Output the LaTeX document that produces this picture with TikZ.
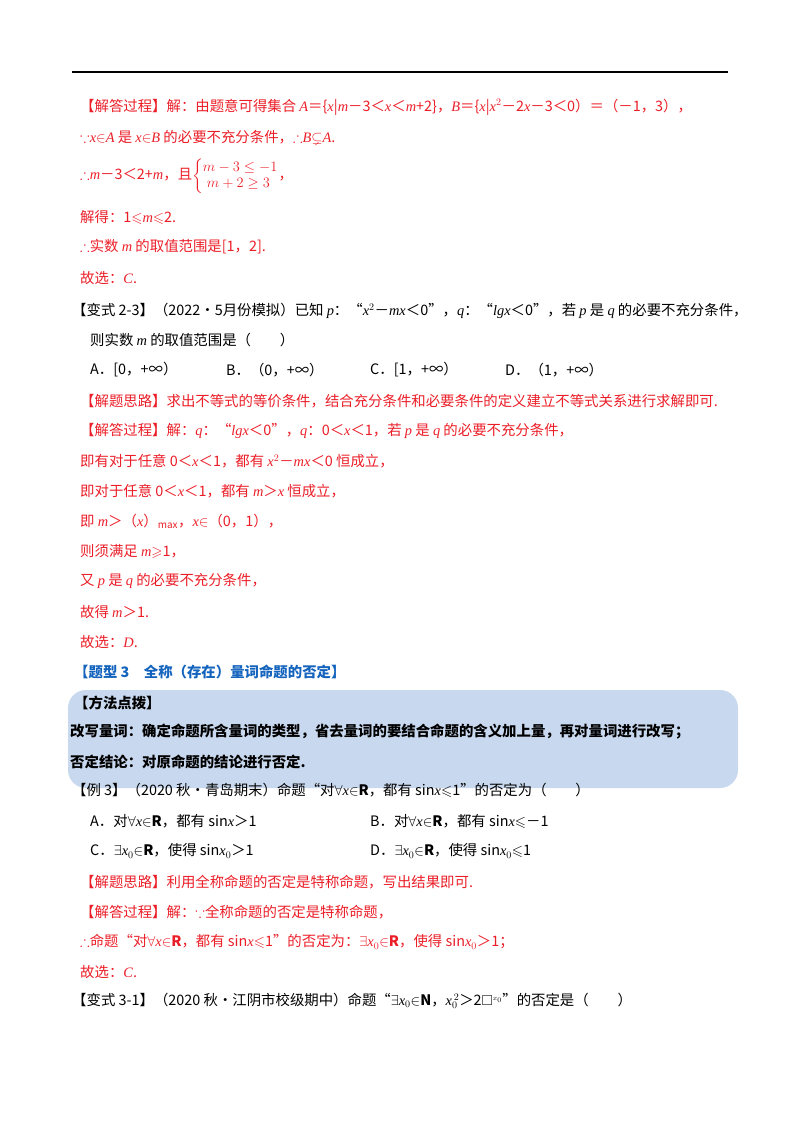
\documentclass[tikz,border=0pt]{standalone}
\usepackage{amsmath,amssymb}
\usepackage{fontspec}
\setmainfont{Noto Sans CJK SC}
\newfontfamily\lat{Liberation Serif}
\definecolor{ans}{RGB}{235,30,40}
\definecolor{hd}{RGB}{20,100,190}
\definecolor{boxc}{RGB}{200,216,238}
\newcommand{\m}[1]{{\lat\itshape #1}}
\begin{document}
\begin{tikzpicture}[x=1pt,y=-1pt,
  tx/.style={anchor=west,inner sep=0pt,font=\fontsize{14.4}{16}\selectfont},
  rd/.style={tx,text=ans},
  bd/.style={tx,font=\fontsize{14.4}{16}\selectfont\bfseries}]
\useasboundingbox (0,0) rectangle (800,1132);
\draw[line width=1.2pt] (72,72) -- (728,72);
\node[rd] (l1) at (80,107) {【解答过程】解：由题意可得集合 \m{A}＝\{\m{x}|\m{m}－3＜\m{x}＜\m{m}+2\}，\m{B}＝\{\m{x}|\m{x}$^2$－2\m{x}－3＜0）＝（－1，3），};
\node[rd] (l2) at (80,137) {$\because$\m{x}$\in$\m{A} 是 \m{x}$\in$\m{B} 的必要不充分条件，$\therefore$\m{B}$\subsetneq$\m{A}.};
\node[rd] (l3) at (80,176) {$\therefore$\m{m}－3＜2+\m{m}，且$\left\{\begin{array}{@{}l@{}} \large m-3\leq-1\\ \large\; m+2\geq 3\end{array}\right.$，};
\node[rd] (l4) at (80,217) {解得：1$\leqslant$\m{m}$\leqslant$2.};
\node[rd] (l5) at (80,247) {$\therefore$实数 \m{m} 的取值范围是[1，2].};
\node[rd] (l6) at (80,278) {故选：\m{C}.};
\node[tx] (q1) at (72,311) {【变式 2-3】（2022•5月份模拟）已知 \m{p}：“\m{x}$^2$－\m{mx}＜0”，\m{q}：“\m{lgx}＜0”，若 \m{p} 是 \m{q} 的必要不充分条件，};
\node[tx] (q2) at (90,340) {则实数 \m{m} 的取值范围是（\quad\quad）};
\node[tx] (oa) at (90,370) {A．[0，+∞）};
\node[tx] (ob) at (226,370) {B．（0，+∞）};
\node[tx] (oc) at (370,370) {C．[1，+∞）};
\node[tx] (od) at (505,370) {D．（1，+∞）};
\node[rd] (r1) at (80,401) {【解题思路】求出不等式的等价条件，结合充分条件和必要条件的定义建立不等式关系进行求解即可.};
\node[rd] (r2) at (80,431) {【解答过程】解：\m{q}：“\m{lgx}＜0”，\m{q}：0＜\m{x}＜1，若 \m{p} 是 \m{q} 的必要不充分条件，};
\node[rd] (r3) at (80,461) {即有对于任意 0＜\m{x}＜1，都有 \m{x}$^2$－\m{mx}＜0 恒成立，};
\node[rd] (r4) at (80,491) {即对于任意 0＜\m{x}＜1，都有 \m{m}＞\m{x} 恒成立，};
\node[rd] (r5) at (80,521) {即 \m{m}＞（\m{x}）$_{\mathit{max}}$，\m{x}$\in$（0，1），};
\node[rd] (r6) at (80,551) {则须满足 \m{m}$\geqslant$1，};
\node[rd] (r7) at (80,581) {又 \m{p} 是 \m{q} 的必要不充分条件，};
\node[rd] (r8) at (80,612) {故得 \m{m}＞1.};
\node[rd] (r9) at (80,642) {故选：\m{D}.};
\node[bd,text=hd] (h3) at (74,672) {【题型 3\quad 全称（存在）量词命题的否定】};
\fill[boxc,rounded corners=18pt] (68,690) rectangle (738,788);
\node[bd] (b1) at (74,703) {【方法点拨】};
\node[bd] (b2) at (70,732) {改写量词：确定命题所含量词的类型，省去量词的要结合命题的含义加上量，再对量词进行改写；};
\node[bd] (b3) at (70,762) {否定结论：对原命题的结论进行否定.};
\node[tx] (e1) at (72,790) {【例 3】（2020 秋•青岛期末）命题“对$\forall$\m{x}$\in$\textbf{R}，都有 sin\m{x}$\leqslant$1”的否定为（\quad\quad）};
\node[tx] (ea) at (90,821) {A．对$\forall$\m{x}$\in$\textbf{R}，都有 sin\m{x}＞1};
\node[tx] (eb) at (370,821) {B．对$\forall$\m{x}$\in$\textbf{R}，都有 sin\m{x}$\leqslant$－1};
\node[tx] (ec) at (90,851) {C．$\exists$\m{x}$_0$$\in$\textbf{R}，使得 sin\m{x}$_0$＞1};
\node[tx] (ed) at (370,851) {D．$\exists$\m{x}$_0$$\in$\textbf{R}，使得 sin\m{x}$_0$$\leqslant$1};
\node[rd] (s1) at (80,882) {【解题思路】利用全称命题的否定是特称命题，写出结果即可.};
\node[rd] (s2) at (80,912) {【解答过程】解：$\because$全称命题的否定是特称命题，};
\node[rd] (s3) at (80,942) {$\therefore$命题“对$\forall$\m{x}$\in$\textbf{R}，都有 sin\m{x}$\leqslant$1”的否定为：$\exists$\m{x}$_0$$\in$\textbf{R}，使得 sin\m{x}$_0$＞1；};
\node[rd] (s4) at (80,972) {故选：\m{C}.};
\node[tx] (v1) at (72,1001) {【变式 3-1】（2020 秋•江阴市校级期中）命题“$\exists$\m{x}$_0$$\in$\textbf{N}，\m{x}$_0^{\,2}$＞2$\square^{\scriptscriptstyle x_0}$”的否定是（\quad\quad）};
\end{tikzpicture}
\end{document}
